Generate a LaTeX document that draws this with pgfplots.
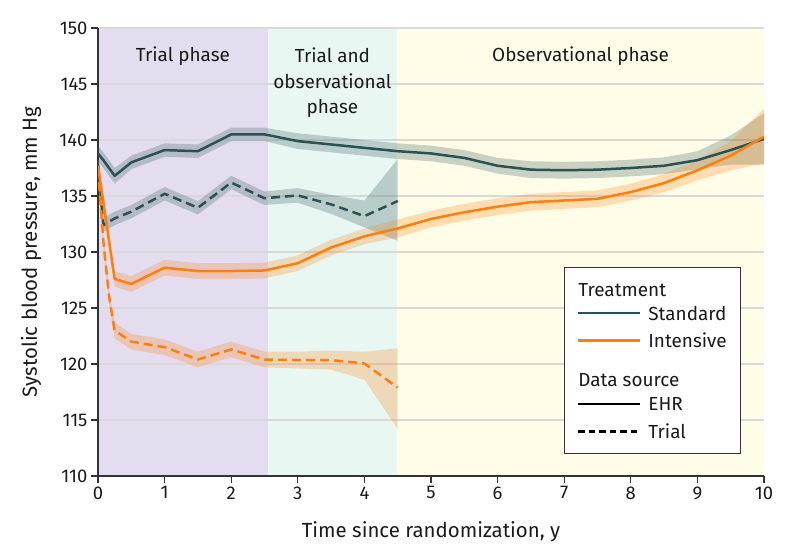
\documentclass[border=0pt]{standalone}
\usepackage{fontspec}
\setmainfont{Fira Sans}
\usepackage{pgfplots}
\usepackage{pgfplotstable}
\pgfplotsset{compat=1.18}
\usepgfplotslibrary{fillbetween}

\definecolor{stdc}{HTML}{2B5252}
\definecolor{intc}{HTML}{FF7F0E}
\definecolor{bgA}{HTML}{E3DDEF}
\definecolor{bgB}{HTML}{E8F7F2}
\definecolor{bgC}{HTML}{FFFDE8}
\definecolor{gridc}{HTML}{D9D9D9}
\definecolor{txt}{HTML}{1A1A1A}

% Standard, EHR
\pgfplotstableread{
t y lo hi
0 138.8 138.1 139.5
0.08 138.2 137.5 138.9
0.25 136.8 136.1 137.5
0.5 138.0 137.4 138.6
1.0 139.1 138.5 139.7
1.5 139.0 138.4 139.6
2.0 140.5 139.9 141.1
2.5 140.5 139.9 141.1
3.0 139.9 139.2 140.6
3.5 139.6 138.9 140.3
4.0 139.3 138.6 140.0
4.5 139.0 138.3 139.7
5.0 138.8 138.1 139.5
5.5 138.4 137.7 139.1
6.0 137.7 137.0 138.4
6.5 137.35 136.6 138.1
7.0 137.3 136.55 138.05
7.5 137.35 136.6 138.1
8.0 137.5 136.75 138.25
8.5 137.7 136.95 138.45
9.0 138.2 137.4 139.0
9.5 139.1 137.8 140.4
10.0 140.1 137.8 142.4
}\stdehr

% Standard, Trial
\pgfplotstableread{
t y lo hi
0 137.9 137.2 138.6
0.08 132.4 131.8 133.0
0.25 133.0 132.4 133.6
0.5 133.6 133.0 134.2
1.0 135.2 134.6 135.8
1.5 133.95 133.35 134.55
2.0 136.2 135.6 136.8
2.5 134.8 134.2 135.4
3.0 135.05 134.4 135.7
3.5 134.25 133.4 135.1
4.0 133.2 132.2 134.6
4.5 134.55 131.0 138.3
}\stdtrial

% Intensive, EHR
\pgfplotstableread{
t y lo hi
0 137.7 137.0 138.4
0.25 127.6 126.9 128.3
0.5 127.15 126.45 127.85
1.0 128.6 127.9 129.3
1.5 128.3 127.6 129.0
2.0 128.3 127.6 129.0
2.5 128.35 127.65 129.05
3.0 129.0 128.3 129.7
3.5 130.4 129.7 131.1
4.0 131.4 130.7 132.1
4.5 132.1 131.3 132.9
5.0 132.95 132.2 133.7
5.5 133.55 132.8 134.3
6.0 134.05 133.3 134.8
6.5 134.45 133.7 135.2
7.0 134.6 133.85 135.35
7.5 134.75 134.0 135.5
8.0 135.35 134.6 136.1
8.5 136.15 135.35 136.95
9.0 137.3 136.4 138.2
9.5 138.6 137.3 139.9
10.0 140.3 137.9 142.8
}\intehr

% Intensive, Trial
\pgfplotstableread{
t y lo hi
0 137.5 136.8 138.2
0.083 130.8 130.1 131.5
0.167 126.0 125.3 126.7
0.25 123.0 122.3 123.7
0.5 122.0 121.3 122.7
1.0 121.5 120.8 122.2
1.5 120.4 119.7 121.1
2.0 121.3 120.6 122.0
2.5 120.4 119.7 121.1
3.0 120.35 119.6 121.1
3.5 120.35 119.5 121.2
4.0 120.05 118.6 121.1
4.5 117.9 114.2 121.4
}\inttrial

\begin{document}
\begin{tikzpicture}
\begin{axis}[
  at={(0,0)}, anchor=south west,
  scale only axis, width=666bp, height=448bp,
  xmin=0, xmax=10, ymin=110, ymax=150,
  xtick={0,1,...,10}, ytick={110,115,...,150},
  axis x line*=bottom, axis y line*=left,
  axis line style={line width=1.2bp, color=black!80, -},
  tick align=outside, major tick length=7bp,
  tick style={line width=1.2bp, color=black!80},
  ymajorgrids, grid style={gridc, line width=1.2bp},
  set layers,
  /pgf/number format/assume math mode=true,
  ticklabel style={font=\fontsize{18.5}{20}\selectfont, text=txt},
  xlabel={Time since randomization, y},
  ylabel={Systolic blood pressure, mm Hg},
  label style={font=\fontsize{20.5}{24}\selectfont, text=txt},
  xlabel style={at={(axis description cs:0.5,0)}, anchor=center, yshift=-56bp},
  ylabel style={at={(axis description cs:0,0.5)}, anchor=center, yshift=67bp},
  clip=true,
]
% phase backgrounds
\addplot[on layer=axis background, fill=bgA, draw=none, forget plot] coordinates {(0,110) (2.55,110) (2.55,150) (0,150)};
\addplot[on layer=axis background, fill=bgB, draw=none, forget plot] coordinates {(2.55,110) (4.49,110) (4.49,150) (2.55,150)};
\addplot[on layer=axis background, fill=bgC, draw=none, forget plot] coordinates {(4.49,110) (10,110) (10,150) (4.49,150)};

% bands
\addplot[name path=sehi, draw=none, forget plot] table[x=t,y=hi]{\stdehr};
\addplot[name path=selo, draw=none, forget plot] table[x=t,y=lo]{\stdehr};
\addplot[fill=stdc, fill opacity=0.25, draw=none, forget plot] fill between[of=sehi and selo];
\addplot[name path=sthi, draw=none, forget plot] table[x=t,y=hi]{\stdtrial};
\addplot[name path=stlo, draw=none, forget plot] table[x=t,y=lo]{\stdtrial};
\addplot[fill=stdc, fill opacity=0.25, draw=none, forget plot] fill between[of=sthi and stlo];
\addplot[name path=iehi, draw=none, forget plot] table[x=t,y=hi]{\intehr};
\addplot[name path=ielo, draw=none, forget plot] table[x=t,y=lo]{\intehr};
\addplot[fill=intc, fill opacity=0.25, draw=none, forget plot] fill between[of=iehi and ielo];
\addplot[name path=ithi, draw=none, forget plot] table[x=t,y=hi]{\inttrial};
\addplot[name path=itlo, draw=none, forget plot] table[x=t,y=lo]{\inttrial};
\addplot[fill=intc, fill opacity=0.25, draw=none, forget plot] fill between[of=ithi and itlo];

% lines
\addplot[stdc, line width=2.5bp, line join=round] table[x=t,y=y]{\stdehr};
\addplot[stdc, line width=2.5bp, line join=round, dash pattern=on 9bp off 5bp] table[x=t,y=y]{\stdtrial};
\addplot[intc, line width=2.5bp, line join=round] table[x=t,y=y]{\intehr};
\addplot[intc, line width=2.5bp, line join=round, dash pattern=on 9bp off 5bp] table[x=t,y=y]{\inttrial};

% phase labels
\node[font=\fontsize{19}{25}\selectfont, text=txt] at (axis cs:1.275,147.5) {Trial phase};
\node[font=\fontsize{19}{25.5}\selectfont, text=txt, align=center] at (axis cs:3.52,145.1) {Trial and\\observational\\phase};
\node[font=\fontsize{19}{25}\selectfont, text=txt] at (axis cs:7.245,147.5) {Observational phase};

\coordinate (L) at (axis cs:7.0,128.6);
\end{axis}

% legend
\begin{scope}[shift={(L)}, every node/.style={anchor=base west, inner sep=0pt, font=\fontsize{19}{22}\selectfont, text=txt}]
\draw[black!80, line width=1bp, fill=white] (0,0) rectangle (176bp,-186bp);
\node at (14bp,-28.7bp) {Treatment};
\draw[stdc, line width=2.5bp] (14bp,-45.3bp) -- (76bp,-45.3bp);
\node at (84bp,-52.5bp) {Standard};
\draw[intc, line width=2.5bp] (14bp,-73bp) -- (76bp,-73bp);
\node at (84bp,-80.3bp) {Intensive};
\node at (14bp,-119bp) {Data source};
\draw[black, line width=2.5bp] (14bp,-136.3bp) -- (76bp,-136.3bp);
\node at (84bp,-143.3bp) {EHR};
\draw[black, line width=2.5bp, dash pattern=on 6.5bp off 4bp] (14bp,-164bp) -- (76bp,-164bp);
\node at (84bp,-170.7bp) {Trial};
\end{scope}

\path (-98bp,-83bp) rectangle (696bp,476bp);
\end{tikzpicture}
\end{document}
